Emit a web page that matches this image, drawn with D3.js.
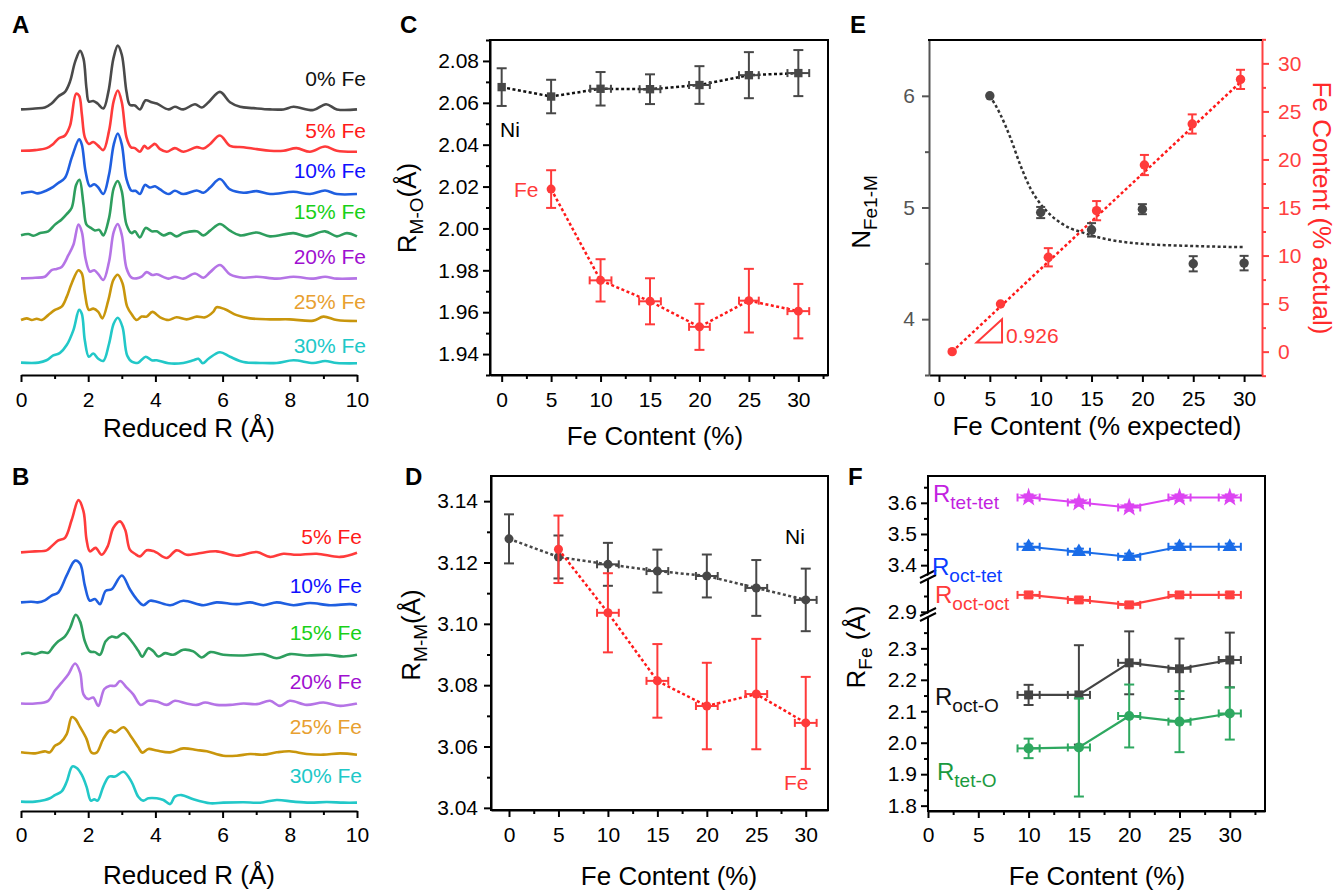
<!DOCTYPE html>
<html>
<head>
<meta charset="utf-8">
<script src="https://cdn.jsdelivr.net/npm/d3@7"></script>
<style>
  body { margin: 0; background: #fff; }
  svg { font-family: "Liberation Sans", Arial, Helvetica, sans-serif; }
</style>
</head>
<body>
<svg id="fig" width="1340" height="890"></svg>
<script>
// ---------------- data ----------------
// Panel A: Fourier transforms (reduced R, magnitude in arb. units)
const aLabels = ['0% Fe', '5% Fe', '10% Fe', '15% Fe', '20% Fe', '25% Fe', '30% Fe'];
const aOffsets = [3.9, 3.25, 2.6, 1.95, 1.3, 0.65, 0];
const a0 = [[0,0],[0.42,0.015],[0.71,0.03],[0.91,0.09],[1.11,0.2],[1.31,0.27],[1.46,0.43],[1.61,0.73],[1.76,0.9],[1.86,0.78],[1.95,0.32],[2.02,0.12],[2.15,0.13],[2.28,0.09],[2.45,0.015],[2.6,0.27],[2.75,0.78],[2.88,0.98],[3.0,0.84],[3.14,0.27],[3.24,0.07],[3.39,0.06],[3.54,0],[3.71,0.14],[3.89,0.11],[4.04,0.09],[4.39,0],[4.58,0.04],[4.83,0],[5.18,0.08],[5.38,0.03],[5.58,0.11],[5.92,0.27],[6.22,0.11],[6.52,0.04],[6.92,0.02],[7.41,0],[7.81,0],[8.11,0.04],[8.7,-0.01],[9.08,0.08],[9.4,0],[10,0]];
const a5 = [[0,0.015],[0.42,0.025],[0.76,0.055],[0.96,0.12],[1.11,0.2],[1.31,0.25],[1.46,0.4],[1.64,0.89],[1.73,0.86],[1.81,0.58],[1.9,0.22],[2.02,0.12],[2.15,0.15],[2.3,0.09],[2.45,0.025],[2.62,0.32],[2.76,0.78],[2.88,0.94],[3.0,0.76],[3.14,0.22],[3.27,0.07],[3.39,0.055],[3.54,0],[3.67,0.09],[3.77,0.05],[3.89,0.09],[3.99,0.12],[4.14,0.04],[4.34,0],[4.58,0.055],[4.83,0],[5.23,0.07],[5.43,0.05],[5.63,0.12],[5.92,0.25],[6.22,0.09],[6.62,0.07],[7.02,0.04],[7.41,0.015],[7.81,0.015],[8.2,0.055],[8.6,0],[9.05,0.08],[9.4,0.015],[10,0]];
const a10 = [[0,0.01],[0.32,0.035],[0.5,0.01],[0.76,0.055],[0.96,0.11],[1.11,0.17],[1.31,0.25],[1.51,0.56],[1.73,0.84],[1.81,0.76],[1.92,0.35],[2.05,0.12],[2.18,0.15],[2.3,0.1],[2.45,0],[2.62,0.3],[2.76,0.76],[2.88,0.93],[3.0,0.76],[3.14,0.23],[3.29,0.05],[3.41,0.05],[3.54,0],[3.69,0.14],[3.84,0.1],[3.99,0.12],[4.14,0.07],[4.39,0],[4.58,0.05],[4.83,0],[5.23,0.055],[5.43,0.02],[5.63,0.1],[5.92,0.23],[6.22,0.07],[6.62,0.02],[7.02,0.045],[7.41,0],[8.11,0.035],[8.6,0],[9.05,0.055],[9.4,0],[10,0]];
const a15 = [[0,0.015],[0.22,0.035],[0.37,0.01],[0.57,0.05],[0.81,0.077],[1.01,0.18],[1.21,0.26],[1.36,0.34],[1.51,0.44],[1.64,0.79],[1.74,0.87],[1.86,0.49],[1.95,0.18],[2.08,0.13],[2.2,0.09],[2.33,0.1],[2.45,0.015],[2.62,0.28],[2.76,0.74],[2.88,0.85],[3.0,0.69],[3.14,0.18],[3.29,0.05],[3.39,0.077],[3.54,-0.015],[3.71,0.13],[3.89,0.077],[4.04,0.077],[4.24,0.015],[4.44,0.05],[4.63,0],[4.83,0.05],[5.23,0.077],[5.43,0.015],[5.63,0.087],[5.92,0.19],[6.22,0.087],[6.52,0.015],[7.02,0.06],[7.41,0],[8.11,0.05],[8.5,0],[9.05,0.077],[9.4,0],[9.7,0.05],[10,0]];
const a20 = [[0,0.005],[0.42,0.015],[0.71,0.03],[0.91,0.13],[1.06,0.15],[1.21,0.18],[1.41,0.36],[1.56,0.52],[1.71,0.83],[1.81,0.72],[1.92,0.31],[2.05,0.11],[2.18,0.13],[2.3,0.07],[2.45,-0.02],[2.62,0.26],[2.76,0.72],[2.88,0.84],[3.0,0.67],[3.14,0.16],[3.29,0.015],[3.44,0.005],[3.59,0.03],[3.74,0.1],[3.91,0.056],[4.04,0.067],[4.39,0],[4.58,0.03],[4.83,0],[5.18,0.08],[5.43,0.015],[5.63,0.1],[5.92,0.21],[6.22,0.067],[6.62,0.015],[7.02,0.03],[7.61,0],[8.11,0.03],[8.7,0],[9.05,0.03],[9.4,0],[10,0.005]];
const a25 = [[0,0.015],[0.17,0.04],[0.32,0.015],[0.47,0.035],[0.62,0.015],[0.81,0.09],[1.01,0.17],[1.21,0.22],[1.36,0.37],[1.51,0.58],[1.71,0.78],[1.81,0.73],[1.9,0.43],[2.02,0.17],[2.15,0.19],[2.3,0.14],[2.42,0.04],[2.6,0.32],[2.75,0.63],[2.88,0.71],[3.02,0.58],[3.16,0.22],[3.31,0.09],[3.44,0.015],[3.59,0.067],[3.74,0.067],[3.91,0.14],[4.14,0.056],[4.39,0.015],[4.63,0.056],[4.93,0.025],[5.23,0.067],[5.48,0.056],[5.72,0.14],[5.82,0.21],[6.07,0.18],[6.42,0.09],[6.82,0.04],[7.41,0.025],[8.0,0.025],[8.7,0.005],[9.0,0.067],[9.4,0.015],[10,0]];
const a30 = [[0,0.01],[0.52,0.01],[0.76,0.046],[0.96,0.12],[1.16,0.16],[1.36,0.28],[1.56,0.51],[1.73,0.82],[1.81,0.76],[1.9,0.35],[2.02,0.1],[2.15,0.15],[2.3,0.07],[2.45,0.036],[2.62,0.3],[2.76,0.61],[2.88,0.7],[3.02,0.56],[3.16,0.12],[3.31,0.02],[3.49,0.01],[3.71,0.1],[3.89,0.046],[4.04,0.046],[4.39,0],[4.83,0.005],[5.13,0.046],[5.28,0.07],[5.41,0],[5.58,0.07],[5.92,0.17],[6.22,0.1],[6.62,0.02],[7.12,0.005],[7.61,0.005],[8.11,0.046],[8.7,0.005],[9.05,0.036],[9.4,0.005],[10,0]];
const aSpectra = [a0, a5, a10, a15, a20, a25, a30];

// Panel B
const bLabels = ['5% Fe', '10% Fe', '15% Fe', '20% Fe', '25% Fe', '30% Fe'];
const bOffsets = [4.7, 3.75, 2.8, 1.85, 0.93, 0];
const b5 = [[0,0.005],[0.42,0.025],[0.76,0.044],[0.91,0.12],[1.11,0.23],[1.31,0.28],[1.51,0.62],[1.71,0.99],[1.86,0.78],[1.95,0.25],[2.05,0.025],[2.22,0.09],[2.4,-0.04],[2.58,0.12],[2.75,0.47],[2.95,0.59],[3.1,0.43],[3.24,0.057],[3.39,-0.02],[3.54,-0.07],[3.74,0.044],[3.94,0.03],[4.04,0],[4.34,-0.1],[4.63,0.044],[4.93,-0.04],[5.23,-0.02],[5.82,0.025],[6.42,-0.057],[7.02,0.013],[7.41,-0.08],[7.81,-0.02],[8.2,-0.04],[8.8,-0.02],[9.5,-0.08],[10,0]];
const b10 = [[0,0.013],[0.3,0.025],[0.5,0.013],[0.71,0.05],[0.91,0.14],[1.11,0.2],[1.36,0.52],[1.61,0.8],[1.76,0.74],[1.9,0.33],[2.05,0.044],[2.2,0.075],[2.35,-0.02],[2.52,0.23],[2.7,0.26],[3.0,0.52],[3.24,0.26],[3.44,0.075],[3.64,-0.04],[3.84,0.044],[4.04,0.025],[4.44,-0.04],[4.83,0.044],[5.43,-0.04],[5.82,0.013],[6.42,-0.02],[6.82,0.013],[7.21,-0.04],[7.61,0.013],[8.11,-0.04],[8.6,0],[9.2,-0.04],[9.8,-0.02],[10,-0.04]];
const b15 = [[0,-0.013],[0.22,0.013],[0.42,-0.013],[0.62,0.025],[0.81,0.013],[0.96,0.13],[1.11,0.23],[1.31,0.32],[1.46,0.48],[1.63,0.73],[1.76,0.6],[1.9,0.23],[2.05,0.04],[2.2,0.025],[2.35,-0.025],[2.52,0.23],[2.7,0.32],[2.85,0.3],[3.05,0.38],[3.29,0.23],[3.49,0.05],[3.61,-0.06],[3.79,0.1],[3.94,0.04],[4.09,-0.057],[4.29,0.006],[4.53,-0.025],[4.83,0.07],[5.13,0.04],[5.38,-0.075],[5.63,0.025],[6.02,-0.025],[6.62,-0.038],[7.21,-0.013],[7.61,-0.09],[8.0,-0.013],[8.5,-0.038],[9.1,-0.025],[9.6,-0.057],[10,-0.025]];
const b20 = [[0,0.006],[0.42,0.006],[0.81,0.057],[1.01,0.25],[1.21,0.4],[1.41,0.56],[1.61,0.76],[1.76,0.59],[1.86,0.18],[2.0,0.09],[2.15,0.12],[2.3,-0.04],[2.48,0.28],[2.65,0.34],[2.8,0.34],[2.95,0.43],[3.14,0.31],[3.34,0.18],[3.56,-0.02],[3.79,0.057],[4.04,0.044],[4.34,-0.02],[4.58,0.057],[4.93,0.006],[5.23,-0.02],[5.48,0.025],[5.82,-0.02],[6.22,-0.02],[6.62,0.006],[7.02,-0.006],[7.41,0.057],[7.71,-0.038],[8.0,0.057],[8.5,-0.02],[9.0,0.025],[9.5,-0.038],[10,0.006]];
const b25 = [[0,0.006],[0.42,-0.013],[0.71,0.025],[0.86,0.006],[1.01,0.13],[1.16,0.18],[1.36,0.35],[1.51,0.67],[1.61,0.64],[1.76,0.48],[1.95,0.26],[2.1,0],[2.25,0],[2.45,0.26],[2.65,0.42],[2.8,0.38],[3.05,0.48],[3.29,0.29],[3.49,0.1],[3.61,0],[3.79,0.07],[4.04,0.04],[4.44,0.006],[4.83,0.08],[5.23,0.05],[5.53,0.025],[6.02,-0.057],[6.42,-0.057],[6.82,-0.025],[7.21,-0.038],[7.61,0.006],[8.0,0.025],[8.5,-0.025],[9.0,-0.038],[9.5,-0.013],[10,-0.038]];
const b30 = [[0,0.006],[0.42,0.006],[0.71,0.038],[0.86,0.07],[1.01,0.13],[1.21,0.2],[1.36,0.38],[1.53,0.67],[1.66,0.64],[1.81,0.51],[1.95,0.29],[2.08,0.025],[2.18,0.05],[2.28,0.025],[2.45,0.29],[2.62,0.48],[2.8,0.48],[3.05,0.57],[3.29,0.38],[3.49,0.1],[3.64,0.025],[3.79,0.07],[4.04,0.07],[4.24,0.038],[4.44,-0.04],[4.58,0.1],[4.78,0.13],[5.13,0.05],[5.63,-0.025],[6.02,-0.013],[6.62,-0.006],[7.12,-0.013],[7.61,0.038],[8.11,0.006],[8.6,-0.013],[9.1,0],[9.6,-0.013],[10,-0.013]];
const bSpectra = [b5, b10, b15, b20, b25, b30];
const rTicks = [0, 2, 4, 6, 8, 10];
const rMinor = [1, 3, 5, 7, 9];

// Panel C: R(M-O)
const cNiX = [0, 5, 10, 15, 20, 25, 30];
const cNi = [2.0675, 2.063, 2.0667, 2.0665, 2.0685, 2.0732, 2.0742];
const cNiErr = [0.009, 0.008, 0.008, 0.0071, 0.009, 0.011, 0.011];
const cNiXErr = [0, 0, 1.05, 1.05, 1.05, 1.0, 1.1];
const cFeX = [5, 10, 15, 20, 25, 30];
const cFe = [2.0188, 1.9752, 1.9652, 1.953, 1.9655, 1.9605];
const cFeErr = [0.009, 0.0101, 0.011, 0.011, 0.0152, 0.013];
const cFeXErr = [0, 1.1, 1.1, 1.05, 1.0, 1.1];
const cYTicks = [1.94, 1.96, 1.98, 2.00, 2.02, 2.04, 2.06, 2.08];

// Panel D: R(M-M)
const dNiX = [0, 5, 10, 15, 20, 25, 30];
const dNi = [3.1277, 3.1218, 3.1194, 3.1172, 3.1156, 3.1117, 3.1078];
const dNiErr = [0.008, 0.007, 0.007, 0.007, 0.007, 0.0091, 0.0102];
const dNiXErr = [0, 0, 1.1, 1.1, 1.1, 1.1, 1.1];
const dFeX = [5, 10, 15, 20, 25, 30];
const dFe = [3.1243, 3.1036, 3.0814, 3.0732, 3.0771, 3.0677];
const dFeErr = [0.011, 0.0129, 0.012, 0.0141, 0.018, 0.015];
const dFeXErr = [0, 1.1, 1.1, 1.1, 1.1, 1.1];
const dYTicks = [3.04, 3.06, 3.08, 3.10, 3.12, 3.14];

const feTicks = [0, 5, 10, 15, 20, 25, 30];

// Panel E: coordination number and actual Fe content
const eNX = [5, 10, 15, 20, 25, 30];
const eN = [6.0, 4.955, 4.80, 4.985, 4.496, 4.502];
const eNErr = [0, 0.05, 0.06, 0.045, 0.068, 0.065];
const eNFitX = [5, 6, 7, 8, 9, 10, 11, 12, 13, 14, 15, 17.5, 20, 25, 30];
const eNFit = [6.0, 5.84, 5.63, 5.38, 5.17, 5.03, 4.93, 4.86, 4.81, 4.78, 4.75, 4.70, 4.675, 4.655, 4.645];
const eFeX = [1.3, 6.05, 10.75, 15.5, 20.2, 24.9, 29.65];
const eFe = [0, 4.96, 9.82, 14.67, 19.42, 23.69, 28.33];
const eFeErr = [0, 0, 0.95, 1.0, 1.05, 1.0, 1.0];
const eFeFitX = [1.3, 29.7];
const eFeFit = [0, 28.1];
const eSlope = '0.926';
const eSlopeTri = [[3.7, 0.94], [6.2, 0.94], [6.2, 3.37]];

// Panel F: Fe shell distances
const fX = [10, 15, 20, 25, 30];
const fXErr = [1.1, 1.1, 1.1, 1.1, 1.1];
const fTetTet = [3.617, 3.601, 3.585, 3.617, 3.617];
const fOctTet = [3.459, 3.443, 3.427, 3.459, 3.459];
const fOctOct = [2.9535, 2.9376, 2.922, 2.9535, 2.9535];
const fOctO = [2.152, 2.152, 2.254, 2.235, 2.263];
const fOctOErr = [0.032, 0.158, 0.1, 0.096, 0.087];
const fTetO = [1.982, 1.985, 2.085, 2.067, 2.093];
const fTetOErr = [0.031, 0.156, 0.1, 0.097, 0.083];
const fSmallErr = [0.01, 0.01, 0.01, 0.01, 0.01];
const fOctOctErr = [0.008, 0.008, 0.008, 0.008, 0.008];
const fYTicks = [1.8, 1.9, 2.0, 2.1, 2.2, 2.3, 2.9, 3.4, 3.5, 3.6];
const fYMinor = [1.85, 1.95, 2.05, 2.15, 2.25, 2.35, 2.95, 3.45, 3.55, 3.65];

// ---------------- styling ----------------
const aColors = ['#4a4a4a', '#ff3b3b', '#1f5fe0', '#2e9e5e', '#b574e6', '#c9960c', '#22c8c8'];
const aTextColors = ['#111', '#ff1a1a', '#1010ff', '#18d018', '#a010d0', '#e8a030', '#20c8c8'];
const bColors = aColors.slice(1);
const bTextColors = aTextColors.slice(1);
const aLabelY = [86, 138, 178, 219, 264, 309, 353];
const bLabelY = [544, 593, 640, 689, 734, 783];
const RED = '#ff3a3a';
const GRAY = '#474747';

const svg = d3.select('#fig');
svg.append('rect').attr('width', 1340).attr('height', 890).attr('fill', '#fff');

function styleAxis(g, color) {
  g.attr('font-family', null).attr('font-size', 21);
  g.selectAll('path,line').attr('stroke', color).attr('stroke-width', 2);
  g.selectAll('text').attr('fill', color);
}

function addAxis(axisFn, scale, transform, majors, minors, opts) {
  const o = Object.assign({ size: 7, minor: 4, pad: 9, color: '#000' }, opts);
  const ax = axisFn(scale).tickValues(majors).tickSize(o.size).tickPadding(o.pad).tickSizeOuter(0);
  if (o.fmt) ax.tickFormat(o.fmt);
  const g = svg.append('g').attr('transform', transform).call(ax);
  if (o.noDomain) g.select('.domain').remove();
  styleAxis(g, o.color);
  if (minors && minors.length) {
    const gm = svg.append('g').attr('transform', transform)
      .call(axisFn(scale).tickValues(minors).tickSize(o.minor).tickFormat('').tickSizeOuter(0));
    gm.select('.domain').remove();
    styleAxis(gm, o.color);
  }
  return g;
}

function frame(x0, y0, x1, y1) {
  svg.append('rect').attr('x', x0).attr('y', y0).attr('width', x1 - x0).attr('height', y1 - y0)
    .attr('fill', 'none').attr('stroke', '#000').attr('stroke-width', 2);
}

function seg(g, x1, y1, x2, y2, color, w) {
  g.append('line').attr('x1', x1).attr('y1', y1).attr('x2', x2).attr('y2', y2)
    .attr('stroke', color).attr('stroke-width', w || 2);
}

function errBars(x, y, xs, ys, xe, ye, color, cap) {
  const g = svg.append('g');
  xs.forEach((xv, i) => {
    const cx = x(xv), cy = y(ys[i]);
    if (ye && ye[i]) {
      const y1 = y(ys[i] - ye[i]), y2 = y(ys[i] + ye[i]);
      seg(g, cx, y1, cx, y2, color);
      seg(g, cx - cap, y1, cx + cap, y1, color);
      seg(g, cx - cap, y2, cx + cap, y2, color);
    }
    if (xe && xe[i]) {
      const x1 = x(xv - xe[i]), x2 = x(xv + xe[i]);
      seg(g, x1, cy, x2, cy, color);
      seg(g, x1, cy - 4, x1, cy + 4, color);
      seg(g, x2, cy - 4, x2, cy + 4, color);
    }
  });
}

function connect(x, y, xs, ys, color, dash, curve, w) {
  svg.append('path').datum(xs.map((v, i) => [v, ys[i]]))
    .attr('d', d3.line().x(d => x(d[0])).y(d => y(d[1])).curve(curve || d3.curveLinear))
    .attr('fill', 'none').attr('stroke', color).attr('stroke-width', w || 2.5)
    .attr('stroke-dasharray', dash);
}

function markers(x, y, xs, ys, type, size, color) {
  svg.append('g').selectAll('path').data(xs).enter().append('path')
    .attr('d', d3.symbol(type, size))
    .attr('transform', (d, i) => `translate(${x(d)},${y(ys[i])})`)
    .attr('fill', color);
}

function text(x, y, str, opts) {
  const o = Object.assign({ size: 21, color: '#000', anchor: 'start', weight: 'normal' }, opts);
  return svg.append('text').attr('x', x).attr('y', y).attr('font-size', o.size)
    .attr('fill', o.color).attr('text-anchor', o.anchor).attr('font-weight', o.weight).text(str);
}

// rotated title with a subscript part
function subTitle(tx, ty, rot, main, sub, tail, color) {
  const t = svg.append('text').attr('transform', `translate(${tx},${ty}) rotate(${rot})`)
    .attr('text-anchor', 'middle').attr('fill', color || '#000');
  t.append('tspan').attr('font-size', 26).text(main);
  t.append('tspan').attr('font-size', 19).attr('dy', 7).text(sub);
  if (tail) t.append('tspan').attr('font-size', 26).attr('dy', -7).text(tail);
}

function fLabel(x, y, sub, color) {
  const t = svg.append('text').attr('x', x).attr('y', y).attr('fill', color);
  t.append('tspan').attr('font-size', 24).text('R');
  t.append('tspan').attr('font-size', 19).attr('dy', 7).text(sub);
}

// panel letters
[['A', 12, 33], ['B', 12, 485], ['C', 400, 33], ['D', 405, 485], ['E', 850, 33], ['F', 848, 485]]
  .forEach(d => text(d[1], d[2], d[0], { size: 24, weight: 'bold' }));

// ---------------- Panel A ----------------
const xA = d3.scaleLinear().domain([0, 10]).range([21, 357]);
const yA = d3.scaleLinear().domain([-0.18, 5.12]).range([375, 30]);
aSpectra.forEach((s, i) => {
  svg.append('path').datum(s)
    .attr('d', d3.line().x(d => xA(d[0])).y(d => yA(d[1] + aOffsets[i])).curve(d3.curveCatmullRom.alpha(0.5)))
    .attr('fill', 'none').attr('stroke', aColors[i]).attr('stroke-width', 2.6).attr('stroke-linejoin', 'round');
  text(366, aLabelY[i], aLabels[i], { anchor: 'end', color: aTextColors[i] });
});
addAxis(d3.axisBottom, xA, 'translate(0,375)', rTicks, rMinor, { pad: 10 });
text(189, 437, 'Reduced R (Å)', { size: 26, anchor: 'middle' });

// ---------------- Panel B ----------------
const xB = d3.scaleLinear().domain([0, 10]).range([21, 357]);
const yB = d3.scaleLinear().domain([-0.17, 6.07]).range([811, 480]);
bSpectra.forEach((s, i) => {
  svg.append('path').datum(s)
    .attr('d', d3.line().x(d => xB(d[0])).y(d => yB(d[1] + bOffsets[i])).curve(d3.curveCatmullRom.alpha(0.5)))
    .attr('fill', 'none').attr('stroke', bColors[i]).attr('stroke-width', 2.6).attr('stroke-linejoin', 'round');
  text(362, bLabelY[i], bLabels[i], { anchor: 'end', color: bTextColors[i] });
});
addAxis(d3.axisBottom, xB, 'translate(0,811)', rTicks, rMinor, { pad: 9 });
text(189, 884, 'Reduced R (Å)', { size: 26, anchor: 'middle' });

// ---------------- Panel C ----------------
const xC = d3.scaleLinear().domain([-1.18, 33.0]).range([490, 828]);
const yC = d3.scaleLinear().domain([1.93, 2.09]).range([375, 40]);
addAxis(d3.axisBottom, xC, 'translate(0,375)', feTicks, [2.5, 7.5, 12.5, 17.5, 22.5, 27.5, 32.5], { pad: 10 });
addAxis(d3.axisLeft, yC, 'translate(490,0)', cYTicks, [1.93, 1.95, 1.97, 1.99, 2.01, 2.03, 2.05, 2.07, 2.09],
  { pad: 4, fmt: d3.format('.2f') });
frame(490, 40, 828, 375);
connect(xC, yC, cNiX, cNi, '#111', '3,2.5');
errBars(xC, yC, cNiX, cNi, cNiXErr, cNiErr, GRAY, 5);
markers(xC, yC, cNiX, cNi, d3.symbolSquare, 70, GRAY);
connect(xC, yC, cFeX, cFe, '#ff1a1a', '3,2.5');
errBars(xC, yC, cFeX, cFe, cFeXErr, cFeErr, RED, 5);
markers(xC, yC, cFeX, cFe, d3.symbolCircle, 64, RED);
text(500, 137, 'Ni');
text(514, 197, 'Fe', { color: RED });
text(655, 445, 'Fe Content (%)', { size: 26, anchor: 'middle' });
subTitle(416, 208, -90, 'R', 'M-O', '(Å)');

// ---------------- Panel D ----------------
const xD = d3.scaleLinear().domain([-1.82, 32.25]).range([491, 828]);
const yD = d3.scaleLinear().domain([3.0393, 3.1482]).range([810, 476]);
addAxis(d3.axisBottom, xD, 'translate(0,810)', feTicks, [2.5, 7.5, 12.5, 17.5, 22.5, 27.5], { pad: 10 });
addAxis(d3.axisLeft, yD, 'translate(491,0)', dYTicks, [3.05, 3.07, 3.09, 3.11, 3.13], { pad: 6, fmt: d3.format('.2f') });
frame(491, 476, 828, 810);
connect(xD, yD, dNiX, dNi, GRAY, '3,2.5');
errBars(xD, yD, dNiX, dNi, dNiXErr, dNiErr, GRAY, 5);
markers(xD, yD, dNiX, dNi, d3.symbolCircle, 64, GRAY);
connect(xD, yD, dFeX, dFe, '#ff1a1a', '3,2.5');
errBars(xD, yD, dFeX, dFe, dFeXErr, dFeErr, RED, 5);
markers(xD, yD, dFeX, dFe, d3.symbolCircle, 64, RED);
text(785, 544, 'Ni');
text(784, 790, 'Fe', { color: RED });
text(669, 885, 'Fe Content (%)', { size: 26, anchor: 'middle' });
subTitle(420, 635, -90, 'R', 'M-M', '(Å)');

// ---------------- Panel E ----------------
const xE = d3.scaleLinear().domain([-0.98, 31.76]).range([929, 1262]);
const yEL = d3.scaleLinear().domain([3.5, 6.5]).range([375, 40]);
const yER = d3.scaleLinear().domain([-2.43, 32.43]).range([375, 40]);
addAxis(d3.axisBottom, xE, 'translate(0,375)', feTicks, [2.5, 7.5, 12.5, 17.5, 22.5, 27.5], { pad: 9 });
addAxis(d3.axisLeft, yEL, 'translate(929,0)', [4, 5, 6], [3.5, 4.5, 5.5], { pad: 7, color: '#555', fmt: d3.format('d') });
addAxis(d3.axisRight, yER, 'translate(1262,0)', [0, 5, 10, 15, 20, 25, 30],
  [-2.5, 2.5, 7.5, 12.5, 17.5, 22.5, 27.5, 32.5], { pad: 9, color: '#ff4040', fmt: d3.format('d') });
seg(svg, 928, 40, 1262, 40, '#000', 2);
connect(xE, yEL, eNFitX, eNFit, '#333', '3,2.5', d3.curveMonotoneX);
connect(xE, yER, eFeFitX, eFeFit, '#ff1a1a', '3,2.5');
errBars(xE, yEL, eNX, eN, null, eNErr, GRAY, 4.5);
markers(xE, yEL, eNX, eN, d3.symbolCircle, 70, GRAY);
errBars(xE, yER, eFeX, eFe, null, eFeErr, RED, 4.5);
markers(xE, yER, eFeX, eFe, d3.symbolCircle, 70, RED);
svg.append('path').datum(eSlopeTri)
  .attr('d', d3.line().x(d => xE(d[0])).y(d => yER(d[1])).curve(d3.curveLinearClosed))
  .attr('fill', 'none').attr('stroke', RED).attr('stroke-width', 2);
text(xE(6.6), yER(0.94), eSlope, { color: RED });
text(1097, 435, 'Fe Content (% expected)', { size: 26, anchor: 'middle' });
subTitle(870, 212, -90, 'N', 'Fe1-M', null);
svg.append('text').attr('transform', 'translate(1313,208) rotate(90)').attr('text-anchor', 'middle')
  .attr('font-size', 26).attr('fill', '#ff2a2a').text('Fe Content (% actual)');

// ---------------- Panel F ----------------
const xF = d3.scaleLinear().domain([0, 33.5]).range([928, 1265]);
const yF = d3.scaleLinear()
  .domain([1.783, 2.406, 2.89, 3.01, 3.362, 3.686])
  .range([811, 615, 615, 577, 577, 476]);
addAxis(d3.axisBottom, xF, 'translate(0,811)', feTicks, [2.5, 7.5, 12.5, 17.5, 22.5, 27.5, 32.5], { pad: 9 });
addAxis(d3.axisLeft, yF, 'translate(928,0)', fYTicks, fYMinor, { pad: 4, fmt: d3.format('.1f'), noDomain: true });
frame(928, 476, 1265, 811);
// axis breaks
[577, 615].forEach(yb => {
  svg.append('polygon').attr('points', `${921},${yb + 2} ${935},${yb - 5} ${935},${yb - 1} ${921},${yb + 6}`).attr('fill', '#fff');
  seg(svg, 920, yb + 1, 936, yb - 7, '#000', 2);
  seg(svg, 920, yb + 6, 936, yb - 2, '#000', 2);
});
const fSeries = [
  { ys: fOctO, ye: fOctOErr, color: '#444', sym: d3.symbolSquare, size: 80 },
  { ys: fTetO, ye: fTetOErr, color: '#2ea860', sym: d3.symbolCircle, size: 80 },
  { ys: fOctOct, ye: fOctOctErr, color: '#ff4040', sym: d3.symbolSquare, size: 80 },
  { ys: fOctTet, ye: fSmallErr, color: '#1a6ce8', sym: d3.symbolTriangle, size: 90 },
  { ys: fTetTet, ye: fSmallErr, color: '#dc44f2', sym: d3.symbolStar, size: 110 }
];
fSeries.forEach(s => {
  connect(xF, yF, fX, s.ys, s.color, null, d3.curveLinear, 2.2);
  errBars(xF, yF, fX, s.ys, fXErr, s.ye, s.color, 5);
  markers(xF, yF, fX, s.ys, s.sym, s.size, s.color);
});
fLabel(933, 502, 'tet-tet', '#c21fe0');
fLabel(932, 575, 'oct-tet', '#0a3cff');
fLabel(935, 603, 'oct-oct', '#ff3b3b');
fLabel(935, 705, 'oct-O', '#111');
fLabel(937, 780, 'tet-O', '#1a9a3e');
text(1097, 885, 'Fe Content (%)', { size: 26, anchor: 'middle' });
subTitle(865, 647, -90, 'R', 'Fe', ' (Å)');
</script>
</body>
</html>
